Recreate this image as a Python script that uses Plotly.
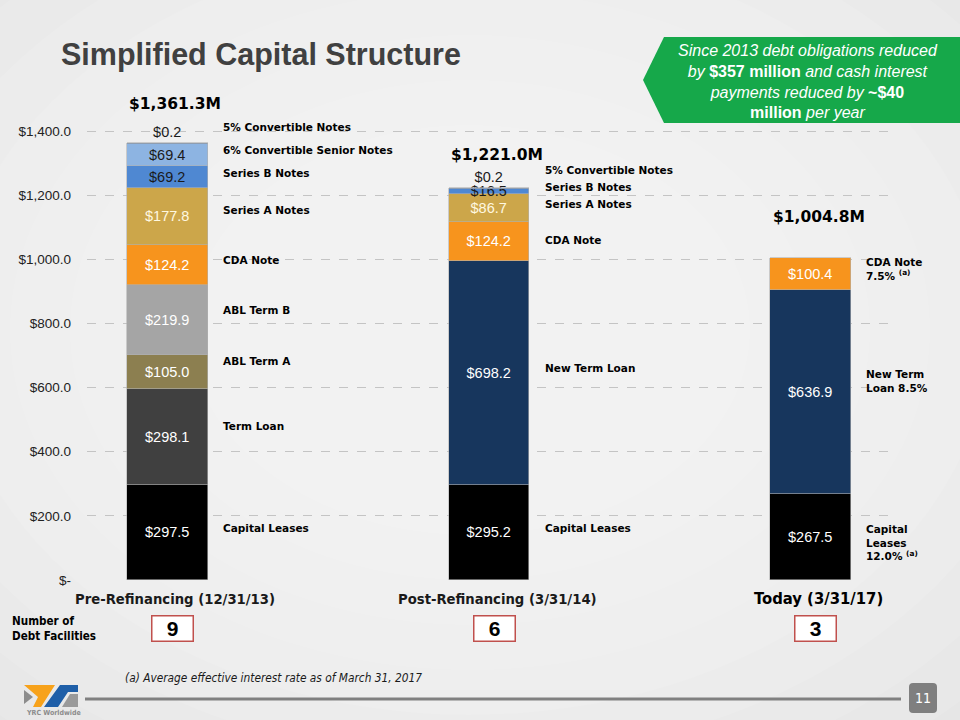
import plotly.graph_objects as go

categories = ["Pre-Refinancing (12/31/13)", "Post-Refinancing (3/31/14)", "Today (3/31/17)"]
x_pos = [0, 1, 2]

series_names = ["Capital Leases", "Term Loan", "ABL Term A", "ABL Term B", "New Term Loan",
                "CDA Note", "Series A Notes", "Series B Notes",
                "6% Convertible Senior Notes", "5% Convertible Notes"]
capital_leases = [297.5, 295.2, 267.5]
term_loan = [298.1, None, None]
abl_term_a = [105.0, None, None]
abl_term_b = [219.9, None, None]
new_term_loan = [None, 698.2, 636.9]
cda_note = [124.2, 124.2, 100.4]
series_a = [177.8, 86.7, None]
series_b = [69.2, 16.5, None]
conv_6 = [69.4, None, None]
conv_5 = [0.2, 0.2, None]
totals = ["$1,361.3M", "$1,221.0M", "$1,004.8M"]
debt_facilities = ["9", "6", "3"]
y_ticks = [0, 200, 400, 600, 800, 1000, 1200, 1400]
y_tick_text = ["$-", "$200.0", "$400.0", "$600.0", "$800.0", "$1,000.0", "$1,200.0", "$1,400.0"]

series_values = [capital_leases, term_loan, abl_term_a, abl_term_b, new_term_loan,
                 cda_note, series_a, series_b, conv_6, conv_5]
colors = ["#000000", "#404040", "#8c7f50", "#a5a5a5", "#17365d",
          "#f7941d", "#cca64a", "#4f88d2", "#8db4e2", "#5a7fae"]
text_colors = ["#ffffff", "#ffffff", "#ffffff", "#ffffff", "#ffffff",
               "#ffffff", "#fff8e0", "#1a1a1a", "#1a1a1a", "#1a1a1a"]

NARROW = "DejaVu Sans Condensed, Liberation Sans"
HEAVY = "DejaVu Sans, Arial Black, sans-serif"
ARIAL = "Liberation Sans, Arial, sans-serif"

W, H = 960, 720
PL, PR, PT, PB = 87, 69, 115, 140
pw, ph = W - PL - PR, H - PT - PB


def px(x):
    return (x - PL) / pw


def py(y):
    return (H - PB - y) / ph


fig = go.Figure()
for name, vals, col, tcol in zip(series_names, series_values, colors, text_colors):
    fig.add_trace(go.Bar(
        x=x_pos, y=vals, name=name, width=0.25,
        marker=dict(color=col, line=dict(color="#b0b0b0", width=0.6)),
        texttemplate="$%{y:.1f}",
        textposition="outside" if name == "5% Convertible Notes" else "inside",
        insidetextanchor="middle", textangle=0, constraintext="none",
        textfont=dict(family=ARIAL, size=14.5, color=tcol),
        cliponaxis=False, showlegend=False, hoverinfo="skip",
    ))

# background glow (decorative)
cx, cy = 470, 330
for k in range(8):
    rx = 700 - k * 60
    ry = 520 - k * 45
    fig.add_shape(type="circle", xref="paper", yref="paper", layer="below",
                  x0=px(cx - rx), x1=px(cx + rx), y0=py(cy + ry), y1=py(cy - ry),
                  fillcolor="rgba(255,255,255,0.10)", line=dict(width=0))

side_labels = [
    (0, 1412, "5% Convertible Notes"),
    (0, 1340, "6% Convertible Senior Notes"),
    (0, 1268, "Series B Notes"),
    (0, 1153, "Series A Notes"),
    (0, 997, "CDA Note"),
    (0, 841, "ABL Term B"),
    (0, 683, "ABL Term A"),
    (0, 480, "Term Loan"),
    (0, 162, "Capital Leases"),
    (1, 1278, "5% Convertible Notes"),
    (1, 1225, "Series B Notes"),
    (1, 1172, "Series A Notes"),
    (1, 1060, "CDA Note"),
    (1, 661, "New Term Loan"),
    (1, 162, "Capital Leases"),
    (2, 970, "CDA Note<br>7.5% <sup>(a)</sup>"),
    (2, 620, "New Term<br>Loan 8.5%"),
    (2, 118, "Capital<br>Leases<br>12.0% <sup>(a)</sup>"),
]
for xi, yv, txt in side_labels:
    fig.add_annotation(x=xi + 0.167, y=yv, xref="x", yref="y", text=txt, showarrow=False,
                       xanchor="left", yanchor="middle", align="left",
                       font=dict(family=HEAVY, size=10.5, color="#000000", weight="bold"))

total_pix_y = [104, 155, 217]
for xi, txt, ty in zip(x_pos, totals, total_pix_y):
    fig.add_annotation(x=xi + 0.025, y=py(ty), xref="x", yref="paper", text=txt, showarrow=False,
                       xanchor="center", yanchor="middle",
                       font=dict(family=HEAVY, size=15.5, color="#000000", weight="bold"))

cat_sizes = [14.7, 14.7, 16.5]
for xi, c, sz in zip(x_pos, categories, cat_sizes):
    fig.add_annotation(x=xi + 0.025, y=py(598), xref="x", yref="paper", text="<b>" + c + "</b>",
                       showarrow=False, xanchor="center", yanchor="middle",
                       font=dict(family=NARROW, size=sz, color="#1a1a1a" if xi < 2 else "#000000"))

for xi, n in zip(x_pos, debt_facilities):
    fig.add_annotation(x=xi + 0.016, y=py(628), xref="x", yref="paper", text="<b>" + n + "</b>",
                       showarrow=False, xanchor="center", yanchor="middle",
                       font=dict(family=ARIAL, size=21, color="#000000"),
                       bgcolor="#ffffff", bordercolor="#c0504d", borderwidth=1.5, borderpad=1,
                       width=38, height=22)

fig.update_layout(
    width=W, height=H,
    margin=dict(l=PL, r=PR, t=PT, b=PB, autoexpand=False),
    paper_bgcolor="#e6e6e6", plot_bgcolor="rgba(0,0,0,0)",
    barmode="stack", bargap=0,
    uniformtext=dict(minsize=14.5, mode="show"),
    xaxis=dict(range=[-0.25, 2.25], showticklabels=False, showgrid=False, zeroline=False,
               showline=False, fixedrange=True),
    yaxis=dict(range=[0, 1450], tickvals=y_ticks, ticktext=y_tick_text,
               automargin=False,
               showgrid=True, gridcolor="#c4c4c4", griddash="dash", gridwidth=1,
               zeroline=False, showline=False, ticks="", ticklabelstandoff=15,
               tickfont=dict(family=ARIAL, size=13.5, color="#222222")),
    font=dict(family=ARIAL),
)

fig.add_annotation(x=px(59), y=py(55), xref="paper", yref="paper", text="<b>Simplified Capital Structure</b>",
                   showarrow=False, xanchor="left", yanchor="middle",
                   font=dict(family=ARIAL, size=30.5, color="#404040"))

fig.add_shape(type="path", xref="paper", yref="paper",
              path=f"M {px(643)},{py(80)} L {px(664)},{py(37)} L {px(962)},{py(37)} L {px(962)},{py(123)} L {px(664)},{py(123)} Z",
              fillcolor="#16a84a", line=dict(width=0), layer="above")
N = "<span style='font-style:normal'><b>"
E = "</b></span>"
fig.add_annotation(x=px(808), y=py(81), xref="paper", yref="paper",
                   text=("<i>Since 2013 debt obligations reduced<br>by " + N + "$357 million" + E +
                         " and cash interest<br>payments reduced by " + N + "~$40" + E +
                         "<br>" + N + "million" + E + " per year</i>"),
                   showarrow=False, xanchor="center", yanchor="middle", align="center",
                   font=dict(family=ARIAL, size=16, color="#ffffff"))

fig.add_annotation(x=px(10), y=py(628), xref="paper", yref="paper",
                   text="<b>Number of<br>Debt Facilities</b>", showarrow=False,
                   xanchor="left", yanchor="middle", align="left",
                   font=dict(family=NARROW, size=11.6, color="#000000"))

fig.add_annotation(x=px(123), y=py(678), xref="paper", yref="paper",
                   text="<i>(a) Average effective interest rate as of March 31, 2017</i>", showarrow=False,
                   xanchor="left", yanchor="middle",
                   font=dict(family=NARROW, size=11.8, color="#1a1a1a"))

fig.add_shape(type="line", xref="paper", yref="paper", x0=px(85), x1=px(901), y0=py(699), y1=py(699),
              line=dict(color="#808080", width=3))
fig.add_shape(type="path", xref="paper", yref="paper",
              path=(f"M {px(913)},{py(683)} L {px(933)},{py(683)} Q {px(937)},{py(683)} {px(937)},{py(687)} "
                    f"L {px(937)},{py(709)} Q {px(937)},{py(713)} {px(933)},{py(713)} L {px(913)},{py(713)} "
                    f"Q {px(909)},{py(713)} {px(909)},{py(709)} L {px(909)},{py(687)} Q {px(909)},{py(683)} {px(913)},{py(683)} Z"),
              fillcolor="#7f7f7f", line=dict(width=0))
fig.add_annotation(x=px(923), y=py(698), xref="paper", yref="paper", text="11", showarrow=False,
                   xanchor="center", yanchor="middle",
                   font=dict(family=NARROW, size=14, color="#ffffff"))

logo = [
    ("M 24,685 L 55,685 L 41,707 L 33,707 L 38,697 Z", "#f7a21b"),
    ("M 24,690 L 33,697 L 24,704 Z", "#8c8c8c"),
    ("M 60,685 L 78,685 L 78,692 L 68,692 L 58,707 L 44,707 Z", "#1f5fa8"),
    ("M 70,694 L 78,694 L 78,707 L 62,707 Z", "#9a9a9a"),
]
for path, col in logo:
    out = []
    for p in path.split():
        if "," in p:
            a, b = p.split(",")
            out.append(f"{px(float(a))},{py(float(b))}")
        else:
            out.append(p)
    fig.add_shape(type="path", xref="paper", yref="paper", path=" ".join(out),
                  fillcolor=col, line=dict(width=0))
fig.add_annotation(x=px(24), y=py(713), xref="paper", yref="paper", text="<b>YRC Worldwide</b>",
                   showarrow=False, xanchor="left", yanchor="middle",
                   font=dict(family=NARROW, size=7, color="#8c8c8c"))

fig.write_html("out.html", config={"displayModeBar": False},
               post_script="document.body.style.margin='0';document.body.style.overflow='hidden';")
